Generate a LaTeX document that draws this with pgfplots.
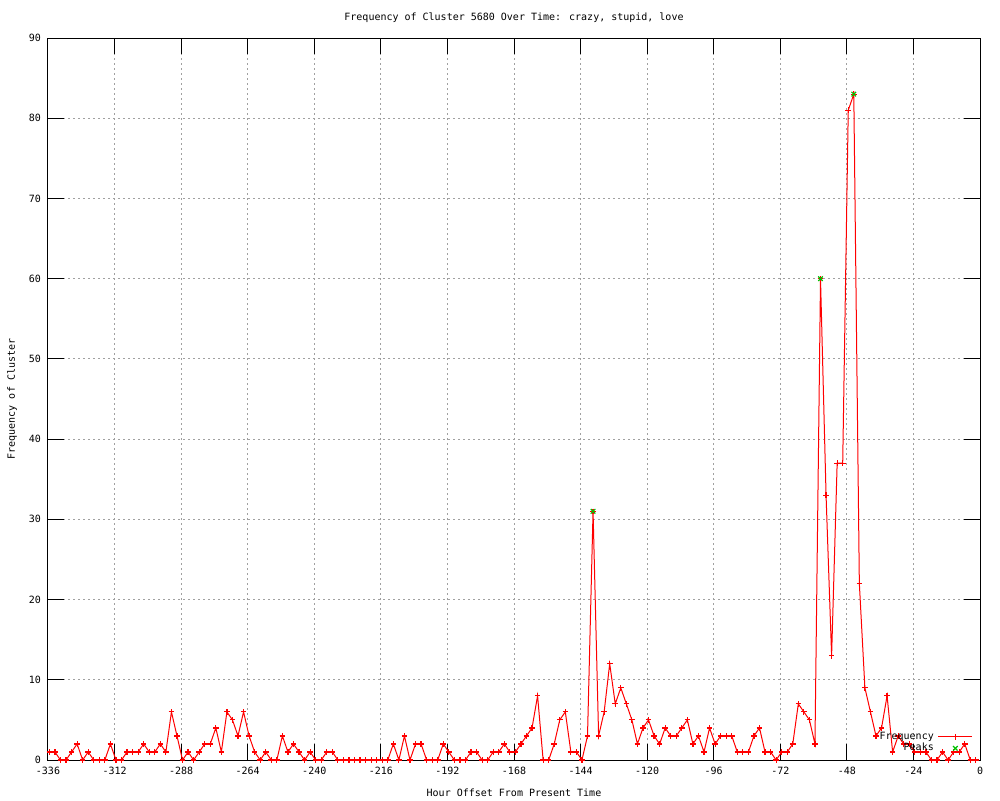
\documentclass[border=0pt]{standalone}
\usepackage{fontspec}
\setmainfont{DejaVu Sans Mono}
\usepackage{pgfplots}
\pgfplotsset{compat=1.18}
\definecolor{gpgreen}{RGB}{0,192,0}
\definecolor{gridgray}{RGB}{160,160,160}
\begin{document}
\begin{tikzpicture}
\useasboundingbox (-24pt,-20pt) rectangle (476pt,380pt);
\begin{axis}[
  at={(0,0)}, anchor=south west,
  scale only axis, width=466pt, height=361pt,
  xmin=-336, xmax=0, ymin=0, ymax=90,
  xtick={-336,-312,...,0},
  xticklabels={-336,-312,-288,-264,-240,-216,-192,-168,-144,-120,-96,-72,-48,-24,0},
  ytick={0,10,...,90},
  yticklabels={0,10,20,30,40,50,60,70,80,90},
  tick align=inside, major tick length=8pt,
  tick style={black, line width=0.5pt},
  axis line style={black, line width=0.5pt},
  grid=major, grid style={gridgray, line width=0.5pt, dash pattern=on 1pt off 1.5pt},
  tick label style={font=\fontsize{5}{6}\selectfont},
  label style={font=\fontsize{5}{6}\selectfont},
  every axis title shift=0pt,
  title style={font=\fontsize{5}{6}\selectfont, at={(axis description cs:0.5,1.0277)}, anchor=center, yshift=0pt},
  title={Frequency of Cluster 5680 Over Time: crazy, stupid, love},
  xlabel={Hour Offset From Present Time},
  ylabel={Frequency of Cluster},
  xlabel style={at={(axis description cs:0.5,-0.0457)}, anchor=center},
  ylabel style={at={(axis description cs:-0.0386,0.5)}, anchor=center},
  legend style={draw=none, fill=none, at={(0.995,0.0)}, anchor=south east,
    font=\fontsize{5}{6}\selectfont, inner sep=1pt, row sep=-3.5pt},
  legend cell align=right, legend plot pos=right,
]
\addplot[red, line width=0.5pt, mark=+, mark size=1.4pt, mark options={red, solid, line width=0.6pt}] table {
x y
-335.5 1
-333.5 1
-331.5 0
-329.5 0
-327.5 1
-325.5 2
-323.5 0
-321.5 1
-319.5 0
-317.5 0
-315.5 0
-313.5 2
-311.5 0
-309.5 0
-307.5 1
-305.5 1
-303.5 1
-301.5 2
-299.5 1
-297.5 1
-295.5 2
-293.5 1
-291.5 6
-289.5 3
-287.5 0
-285.5 1
-283.5 0
-281.5 1
-279.5 2
-277.5 2
-275.5 4
-273.5 1
-271.5 6
-269.5 5
-267.5 3
-265.5 6
-263.5 3
-261.5 1
-259.5 0
-257.5 1
-255.5 0
-253.5 0
-251.5 3
-249.5 1
-247.5 2
-245.5 1
-243.5 0
-241.5 1
-239.5 0
-237.5 0
-235.5 1
-233.5 1
-231.5 0
-229.5 0
-227.5 0
-225.5 0
-223.5 0
-221.5 0
-219.5 0
-217.5 0
-215.5 0
-213.5 0
-211.5 2
-209.5 0
-207.5 3
-205.5 0
-203.5 2
-201.5 2
-199.5 0
-197.5 0
-195.5 0
-193.5 2
-191.5 1
-189.5 0
-187.5 0
-185.5 0
-183.5 1
-181.5 1
-179.5 0
-177.5 0
-175.5 1
-173.5 1
-171.5 2
-169.5 1
-167.5 1
-165.5 2
-163.5 3
-161.5 4
-159.5 8
-157.5 0
-155.5 0
-153.5 2
-151.5 5
-149.5 6
-147.5 1
-145.5 1
-143.5 0
-141.5 3
-139.5 31
-137.5 3
-135.5 6
-133.5 12
-131.5 7
-129.5 9
-127.5 7
-125.5 5
-123.5 2
-121.5 4
-119.5 5
-117.5 3
-115.5 2
-113.5 4
-111.5 3
-109.5 3
-107.5 4
-105.5 5
-103.5 2
-101.5 3
-99.5 1
-97.5 4
-95.5 2
-93.5 3
-91.5 3
-89.5 3
-87.5 1
-85.5 1
-83.5 1
-81.5 3
-79.5 4
-77.5 1
-75.5 1
-73.5 0
-71.5 1
-69.5 1
-67.5 2
-65.5 7
-63.5 6
-61.5 5
-59.5 2
-57.5 60
-55.5 33
-53.5 13
-51.5 37
-49.5 37
-47.5 81
-45.5 83
-43.5 22
-41.5 9
-39.5 6
-37.5 3
-35.5 4
-33.5 8
-31.5 1
-29.5 3
-27.5 2
-25.5 2
-23.5 1
-21.5 1
-19.5 1
-17.5 0
-15.5 0
-13.5 1
-11.5 0
-9.5 1
-7.5 1
-5.5 2
-3.5 0
-1.5 0
};
\addlegendentry{Frequency}
\addplot[gpgreen, only marks, mark=x, mark size=1.6pt, mark options={gpgreen, solid, line width=0.6pt}] table {
x y
-139.5 31
-57.5 60
-45.5 83
};
\addlegendentry{Peaks}
\end{axis}
\end{tikzpicture}
\end{document}
